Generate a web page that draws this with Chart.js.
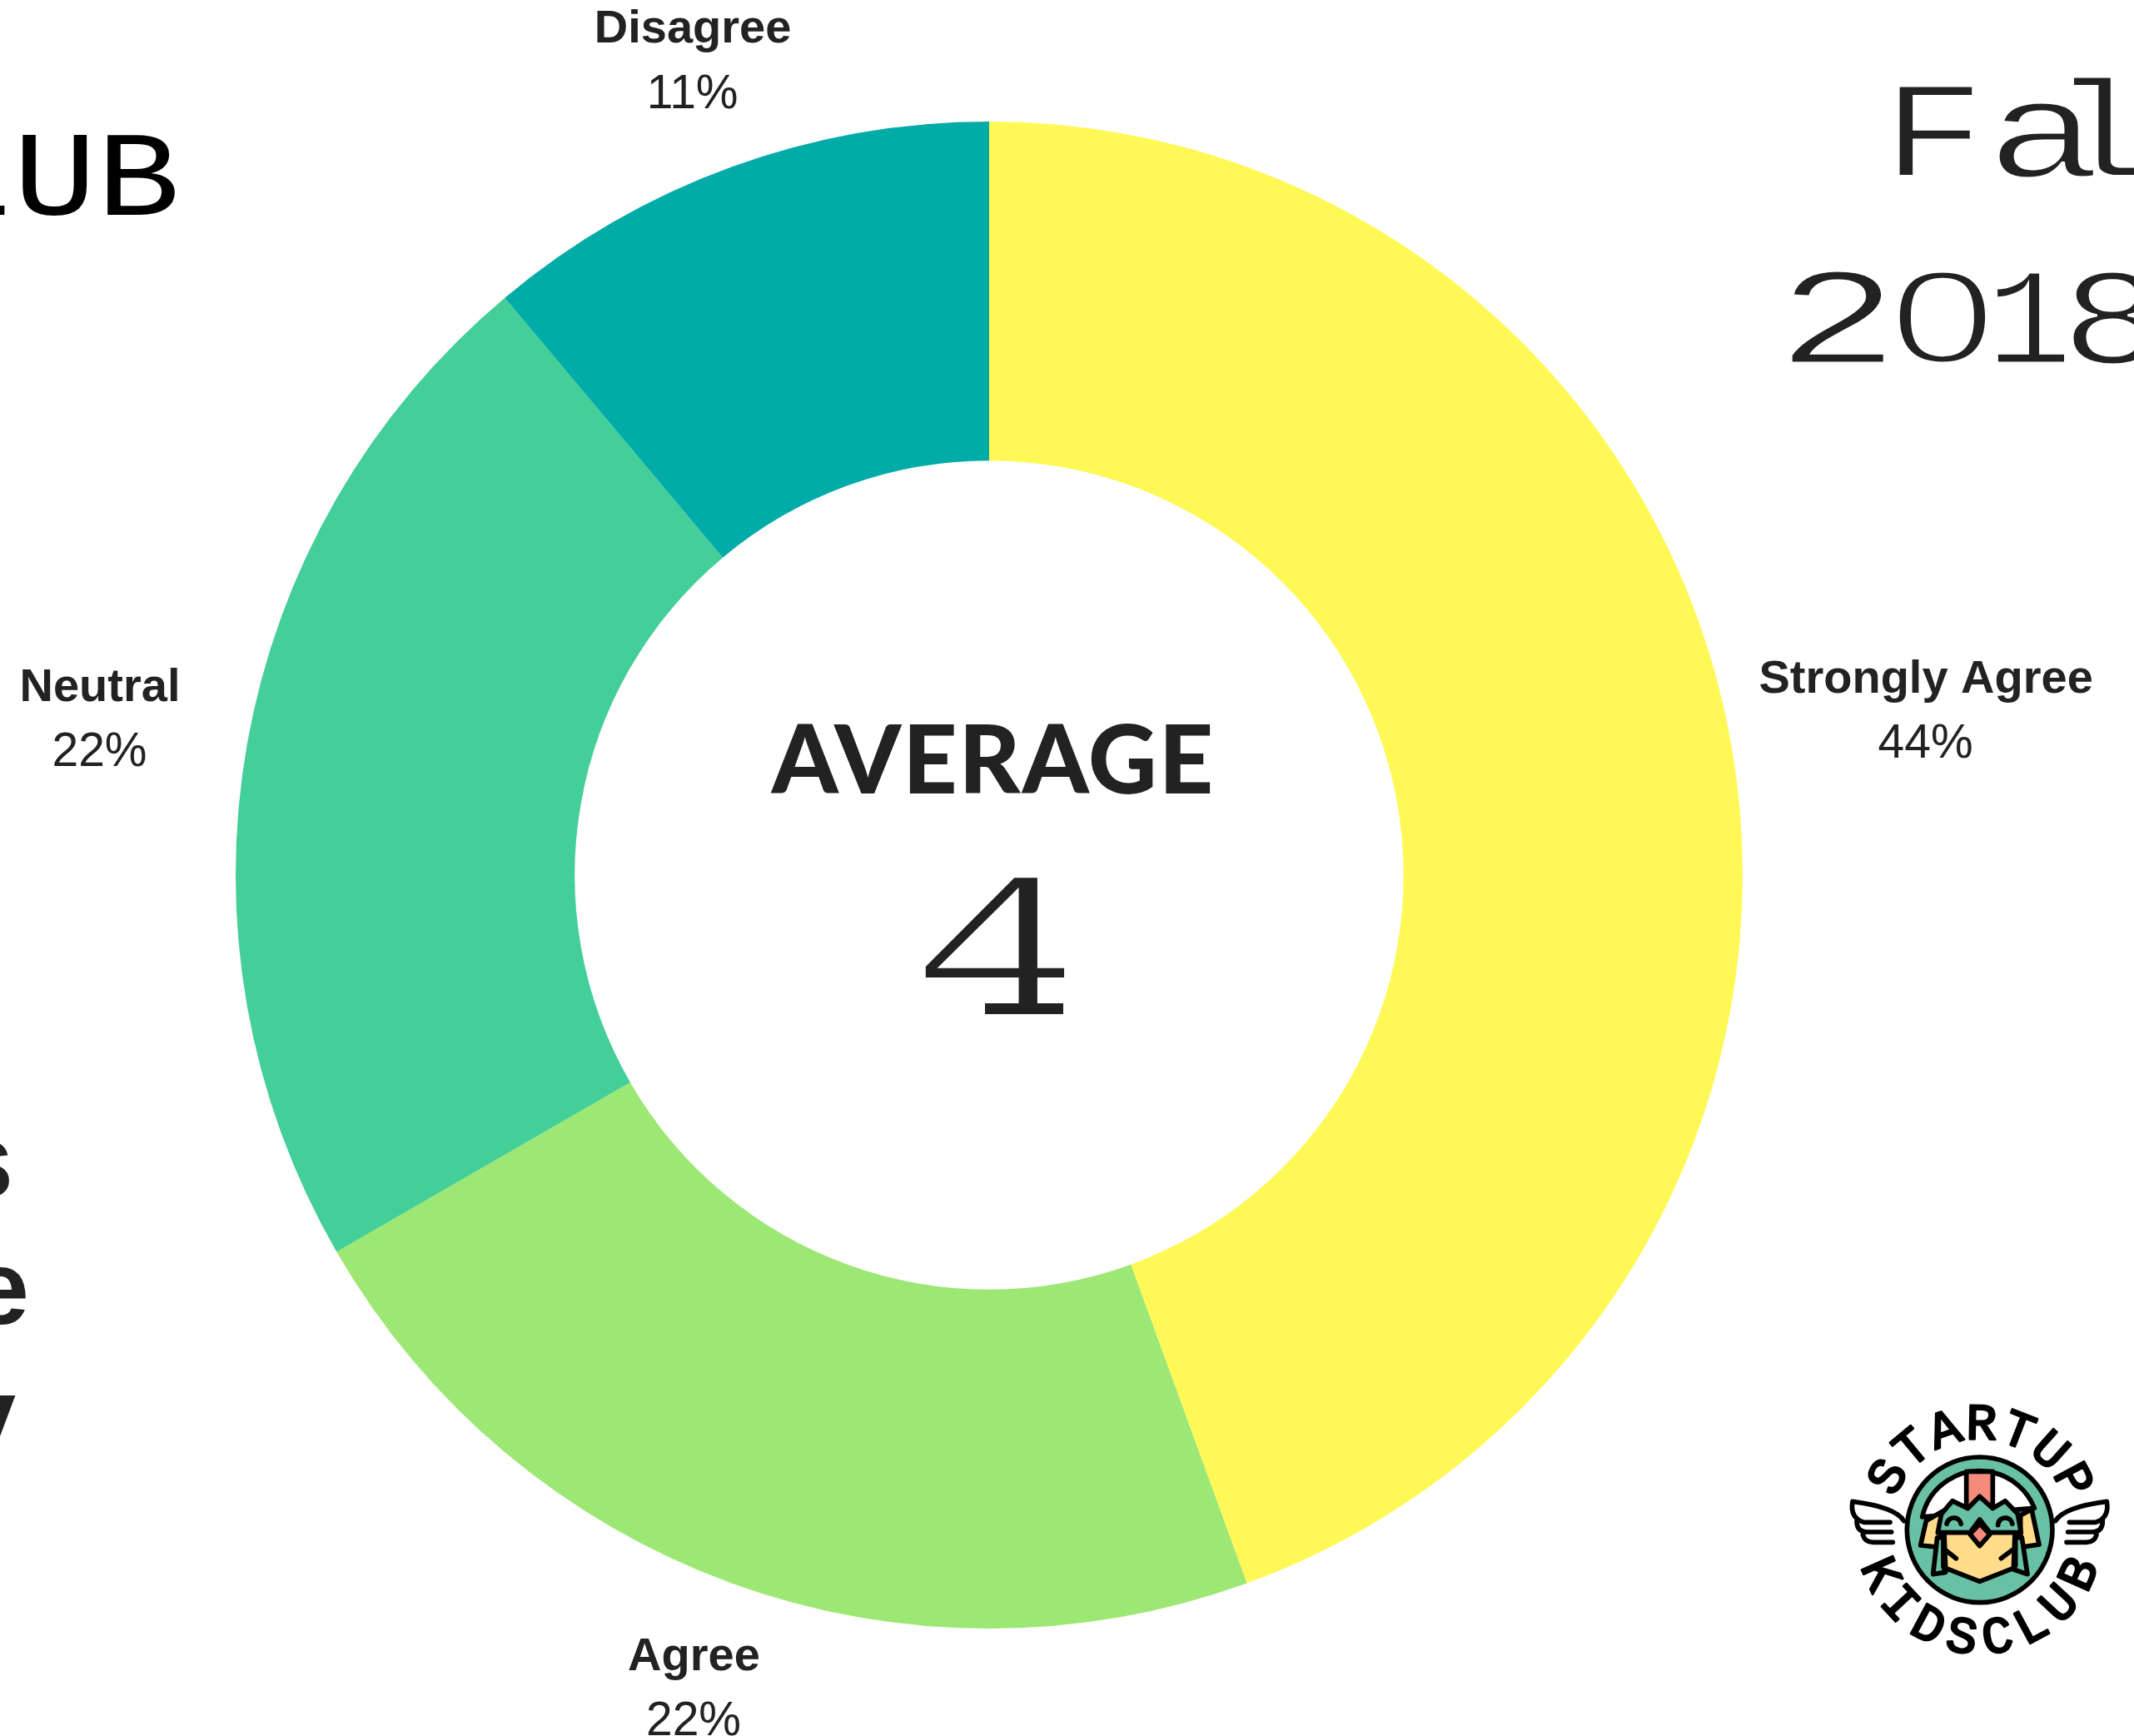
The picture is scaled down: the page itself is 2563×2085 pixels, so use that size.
<!DOCTYPE html>
<html>
<head>
  <title>Fall 2018 Survey</title>
  <script src="https://cdn.jsdelivr.net/npm/chart.js"></script>
  <style>
    html, body { margin: 0; padding: 0; background: #fff; overflow: hidden; }
    canvas { display: block; }
  </style>
</head>
<body>
  <canvas id="chart" width="2563" height="2085"></canvas>

  <script>
    const categories = ['Strongly Agree', 'Agree', 'Neutral', 'Disagree'];
    const shares = [44.4, 22.2, 22.2, 11.1];
    const sliceColors = ['#FFF855', '#9DE874', '#44CE98', '#01ACA8'];
    const averageValue = '4';

    const textColor = '#222222';
    // gap from the ring's outer edge to the middle of each label block
    const labelDistance = [237, 133, 180, 137];

    // thin > 0 shaves the glyph edges with a white outline, the page behind is white
    function stretched(ctx, text, x, y, font, scaleX, align, thin) {
      ctx.save();
      ctx.font = font;
      ctx.textAlign = align;
      ctx.textBaseline = 'alphabetic';
      ctx.translate(x, y);
      ctx.scale(scaleX, 1);
      ctx.fillText(text, 0, 0);
      if (thin) {
        ctx.strokeStyle = '#fff';
        ctx.lineWidth = thin;
        ctx.strokeText(text, 0, 0);
      }
      ctx.restore();
    }

    const sliceLabels = {
      id: 'sliceLabels',
      afterDraw(chart) {
        const ctx = chart.ctx;
        ctx.save();
        ctx.fillStyle = textColor;
        ctx.textAlign = 'center';
        ctx.textBaseline = 'middle';
        chart.getDatasetMeta(0).data.forEach((arc, i) => {
          const mid = (arc.startAngle + arc.endAngle) / 2;
          const r = arc.outerRadius + labelDistance[i];
          const x = arc.x + Math.cos(mid) * r;
          const y = arc.y + Math.sin(mid) * r;
          ctx.font = 'bold 56px "Liberation Sans"';
          ctx.fillText(categories[i], x + 0.5, y - 36);
          ctx.font = '57px "Liberation Sans"';
          ctx.fillText(Math.round(shares[i]) + '%', x, y + 42);
        });
        ctx.restore();
      }
    };

    const centerText = {
      id: 'centerText',
      afterDraw(chart) {
        const ctx = chart.ctx;
        const arc = chart.getDatasetMeta(0).data[0];
        ctx.save();
        ctx.fillStyle = textColor;
        ctx.font = '900 114px Lato';
        ctx.textAlign = 'center';
        ctx.textBaseline = 'alphabetic';
        ctx.letterSpacing = '2px';
        ctx.fillText('AVERAGE', arc.x + 5, 953);
        ctx.letterSpacing = '0px';
        stretched(ctx, averageValue, arc.x + 7, 1216, '250px "Liberation Mono"', 1.4, 'center', 6);
        // the foot of the slab 4
        ctx.fillRect(1183, 1205, 94, 13);
        ctx.restore();
      }
    };

    // page furniture around the chart, cut off by the page edges like the original
    const pageText = {
      id: 'pageText',
      afterDraw(chart) {
        const ctx = chart.ctx;
        const mono = '165px "Liberation Mono"';
        ctx.save();
        ctx.fillStyle = textColor;
        stretched(ctx, 'F', 2260, 212, mono, 1.26, 'left', 3);
        stretched(ctx, 'a', 2385, 212, mono, 1.4, 'left', 3);
        stretched(ctx, 'l', 2462, 212, mono, 1.26, 'left', 3);
        stretched(ctx, 'l', 2590, 212, mono, 1.26, 'left', 3);
        stretched(ctx, '2', 2133, 436, mono, 1.5, 'left', 3);
        // Liberation Mono has a dotted zero, the reference has a plain one
        stretched(ctx, '0', 2333, 435, '158px "Liberation Sans"', 1.45, 'center', 5);
        stretched(ctx, '1', 2385, 436, mono, 1.05, 'left', 3);
        stretched(ctx, '8', 2475, 436, mono, 1.26, 'left', 3);
        ctx.fillStyle = '#000';
        stretched(ctx, 'CLUB', 216, 258, '145px "Liberation Mono"', 1.15, 'right');
        ctx.fillStyle = textColor;
        stretched(ctx, 's', 16, 1438, 'bold 126px "Liberation Sans"', 1, 'right');
        stretched(ctx, 'e', 35, 1590, 'bold 126px "Liberation Sans"', 1, 'right');
        stretched(ctx, 'y', 19, 1743, 'bold 126px "Liberation Sans"', 1, 'right');
        ctx.restore();
      }
    };

    function shape(ctx, pts, fill) {
      ctx.beginPath();
      pts.forEach((p, i) => i ? ctx.lineTo(p[0], p[1]) : ctx.moveTo(p[0], p[1]));
      ctx.closePath();
      if (fill) {
        ctx.fillStyle = fill;
        ctx.fill();
      }
      ctx.stroke();
    }

    function arcText(ctx, text, cx, cy, r, from, to, bottom) {
      const step = (to - from) / (text.length - 1);
      [...text].forEach((ch, i) => {
        const a = (from + step * i) * Math.PI / 180;
        ctx.save();
        if (bottom) {
          ctx.translate(cx + Math.sin(a) * r, cy + Math.cos(a) * r);
          ctx.rotate(-a);
        } else {
          ctx.translate(cx + Math.sin(a) * r, cy - Math.cos(a) * r);
          ctx.rotate(a);
        }
        ctx.fillText(ch, 0, 0);
        ctx.strokeText(ch, 0, 0);
        ctx.restore();
      });
    }

    function wing(ctx) {
      ctx.beginPath();
      ctx.moveTo(410, 530);
      ctx.quadraticCurveTo(380, 480, 225, 460);
      ctx.quadraticCurveTo(215, 520, 265, 535);
      ctx.lineTo(360, 535);
      ctx.moveTo(240, 530);
      ctx.quadraticCurveTo(240, 570, 280, 570);
      ctx.lineTo(365, 570);
      ctx.moveTo(262, 580);
      ctx.quadraticCurveTo(270, 610, 305, 607);
      ctx.lineTo(370, 607);
      ctx.stroke();
    }

    // logo, drawn in a 3x local grid
    const logo = {
      id: 'logo',
      afterDraw(chart) {
        const ctx = chart.ctx;
        ctx.save();
        ctx.translate(2150, 1650);
        ctx.scale(1 / 3, 1 / 3);
        ctx.lineWidth = 17;
        ctx.lineJoin = 'round';
        ctx.lineCap = 'round';
        ctx.strokeStyle = '#000';
        const cx = 683, cy = 562;

        ctx.beginPath();
        ctx.arc(cx, cy, 262, 0, Math.PI * 2);
        ctx.fillStyle = '#68C1A4';
        ctx.fill();
        ctx.stroke();

        ctx.beginPath();
        ctx.arc(cx, cy, 212, Math.PI * 1.07, Math.PI * 1.88);
        ctx.closePath();
        ctx.fillStyle = '#fff';
        ctx.fill();
        ctx.stroke();

        shape(ctx, [[635, 352], [730, 352], [730, 480], [635, 480]], '#F58B7B');
        shape(ctx, [[470, 618], [490, 530], [550, 495], [540, 625]], '#FFDC8A');
        shape(ctx, [[830, 510], [870, 488], [897, 615], [830, 625]], '#FFDC8A');
        shape(ctx, [[555, 570], [810, 570], [805, 700], [683, 748], [560, 700]], '#FFDC8A');
        shape(ctx, [[532, 572], [545, 505], [585, 458], [640, 485], [683, 442], [730, 485],
                    [775, 458], [820, 505], [832, 572], [720, 572], [683, 525], [648, 572]], '#68C1A4');
        shape(ctx, [[530, 590], [552, 590], [552, 695], [560, 715], [515, 722]], '#68C1A4');
        shape(ctx, [[812, 590], [835, 590], [855, 722], [805, 705], [812, 690]], '#68C1A4');
        shape(ctx, [[683, 540], [720, 578], [683, 620], [648, 578]], '#F58B7B');

        ctx.beginPath();
        ctx.arc(590, 545, 26, Math.PI * 1.05, Math.PI * 1.95);
        ctx.moveTo(749, 545);
        ctx.arc(775, 545, 26, Math.PI * 1.05, Math.PI * 1.95);
        ctx.moveTo(560, 635);
        ctx.lineTo(598, 665);
        ctx.moveTo(800, 635);
        ctx.lineTo(760, 665);
        ctx.stroke();

        wing(ctx);
        ctx.save();
        ctx.translate(cx * 2, 0);
        ctx.scale(-1, 1);
        wing(ctx);
        ctx.restore();

        ctx.fillStyle = '#000';
        ctx.lineWidth = 8;
        ctx.font = '185px "Liberation Mono"';
        ctx.textAlign = 'center';
        ctx.textBaseline = 'middle';
        arcText(ctx, 'STARTUP', cx, cy, 375, -60, 62, false);
        arcText(ctx, 'KIDSCLUB', cx, cy, 398, -66, 66, true);
        ctx.restore();
      }
    };

    new Chart(document.getElementById('chart').getContext('2d'), {
      type: 'doughnut',
      data: {
        labels: categories,
        datasets: [{
          data: shares,
          backgroundColor: sliceColors,
          borderWidth: 0
        }]
      },
      options: {
        responsive: false,
        animation: false,
        cutout: '55%',
        layout: { padding: { left: 283, top: 146, right: 470, bottom: 129 } },
        plugins: {
          legend: { display: false },
          tooltip: { enabled: false }
        }
      },
      plugins: [sliceLabels, centerText, pageText, logo]
    });
  </script>
</body>
</html>
